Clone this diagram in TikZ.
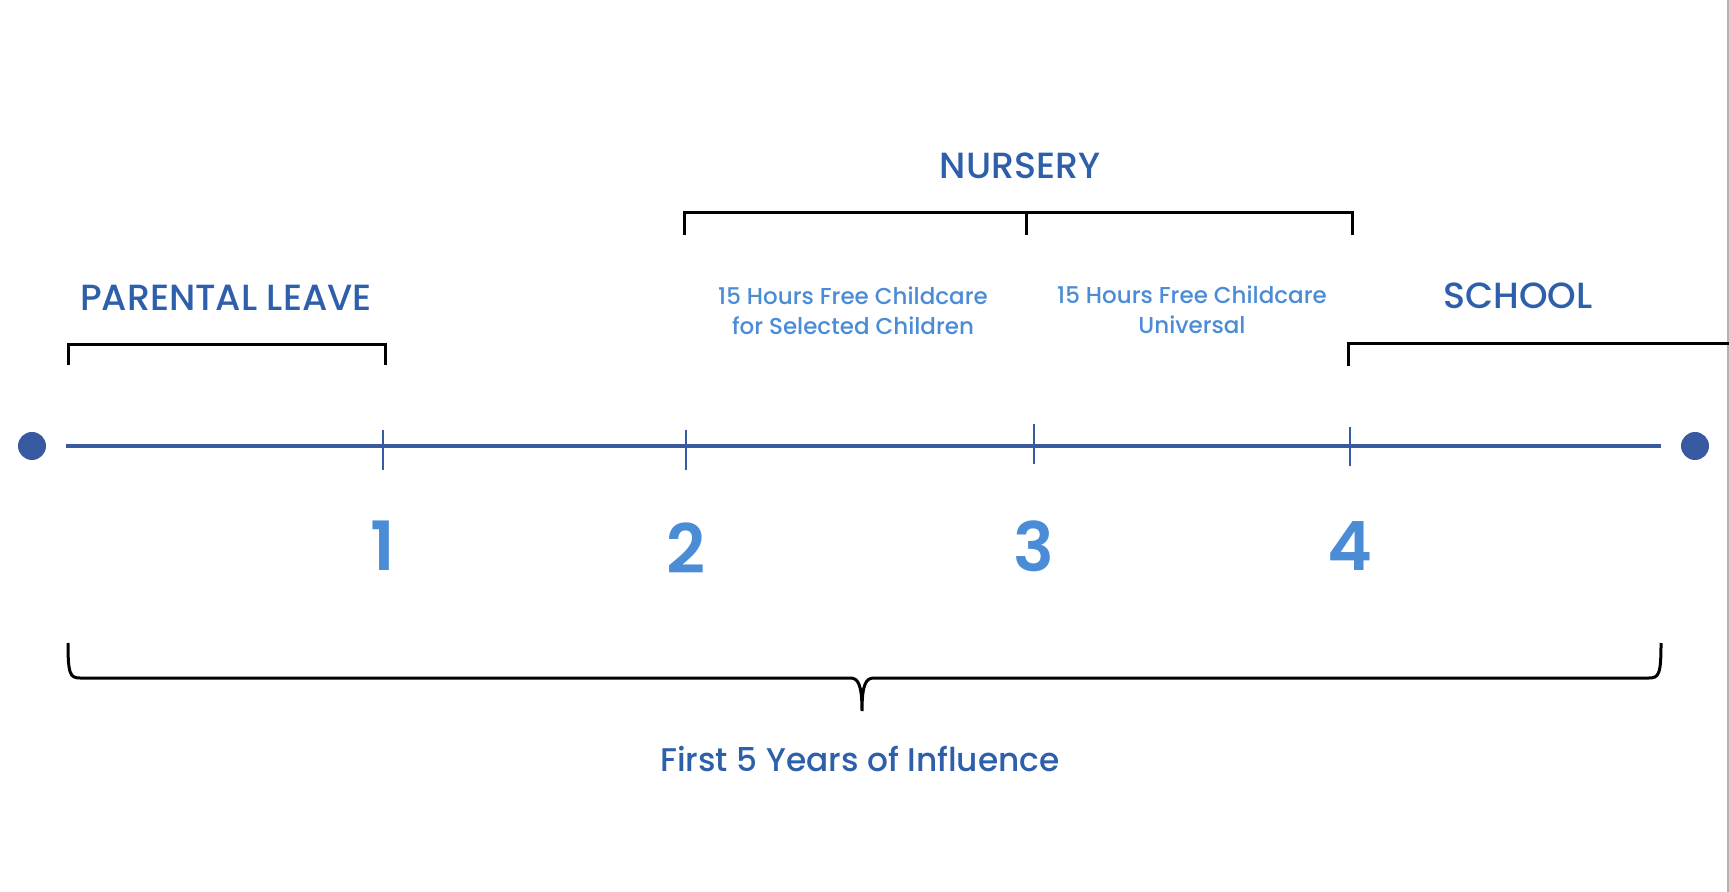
\documentclass[tikz,border=0pt]{standalone}
\usepackage{fontspec}
\setmainfont{Poppins}
\newfontfamily\pmed{Poppins Medium}
\newfontfamily\psemi{Poppins SemiBold}
\definecolor{headblue}{RGB}{45,95,170}
\definecolor{lineblue}{RGB}{55,90,160}
\definecolor{lightblue}{RGB}{75,140,215}
\begin{document}
\begin{tikzpicture}[x=0.5pt,y=-0.5pt,
  head/.style={text=headblue,inner sep=0pt,font=\pmed\fontsize{18.2}{21}\selectfont},
  sub/.style={text=lightblue,inner sep=0pt,align=center,font=\pmed\fontsize{11.5}{15}\selectfont},
  num/.style={text=lightblue,inner sep=0pt,font=\psemi\fontsize{34}{40}\selectfont},
  foot/.style={text=headblue,inner sep=0pt,font=\pmed\fontsize{16.4}{20}\selectfont},
  dot/.style={circle,fill=lineblue,minimum size=14pt,inner sep=0pt},
  axis/.style={lineblue,line width=2pt},
  tickmark/.style={lineblue,line width=1.2pt},
  brack/.style={black,line width=1.5pt}]
\useasboundingbox (0,0) rectangle (1729,892);
\fill[white] (0,0) rectangle (1729,892);
\draw[gray!60,line width=0.8pt] (1728,0) -- (1728,892);
% timeline
\node[dot] (dl) at (32,446) {};
\node[dot] (dr) at (1695,446) {};
\draw[axis,shorten <=10pt,shorten >=10pt] (dl) -- (dr);
% ticks
\coordinate (t1) at (383,446);
\coordinate (t2) at (686,446);
\coordinate (t3) at (1034,446);
\coordinate (t4) at (1350,446);
\draw[tickmark] (383,430) -- (383,470);
\draw[tickmark] (686,430) -- (686,470);
\draw[tickmark] (1034,424) -- (1034,464);
\draw[tickmark] (1350,427) -- (1350,466);
% numbers
\node[num] (n1) at (383,546) {1};
\node[num] (n2) at (686,548) {2};
\node[num] (n3) at (1034,546) {3};
\node[num] (n4) at (1350,546) {4};
% parental leave
\node[head] (pl) at (226,298) {PARENTAL LEAVE};
\draw[brack] (68,365) -- (68,345) -- (385,345) -- (385,365);
% nursery
\node[head] (nur) at (1020,166) {NURSERY};
\draw[brack] (684,235) -- (684,213) -- (1352,213) -- (1352,235);
\draw[brack] (1026,213) -- (1026,235);
\node[sub] (s1) at (853,311) {15 Hours Free Childcare\\for Selected Children};
\node[sub] (s2) at (1192,310) {15 Hours Free Childcare\\Universal};
% school
\node[head] (sch) at (1518,296) {SCHOOL};
\draw[brack] (1348,366) -- (1348,344) -- (1729,344);
% bottom brace
\draw[brack] (68,643) .. controls (68,674) and (70,678) .. (80,678) -- (850,678)
  .. controls (858,678) and (862,684) .. (862,711)
  .. controls (862,684) and (866,678) .. (874,678) -- (1649,678)
  .. controls (1659,678) and (1661,674) .. (1661,643);
\node[foot] (ft) at (860,759) {First 5 Years of Influence};
\end{tikzpicture}
\end{document}
